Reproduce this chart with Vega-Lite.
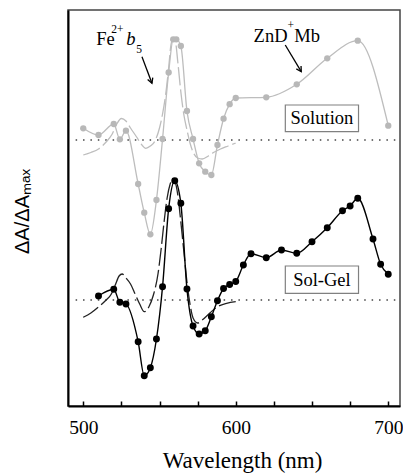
{
  "$schema": "https://vega.github.io/schema/vega-lite/v6.json",
  "width": 332,
  "height": 396,
  "autosize": {"type": "none"},
  "padding": {"left": 68, "top": 10, "right": 3, "bottom": 67},
  "background": "white",
  "config": {
    "view": {"stroke": "#444", "strokeWidth": 1.5},
    "font": "Liberation Serif",
    "axis": {"labelFont": "Liberation Serif", "titleFont": "Liberation Serif"},
    "axisY": {"titleFont": "Liberation Sans"},
    "text": {"font": "Liberation Serif"}
  },
  "datasets": {
    "solution": [
      {"nm": 500, "v": 2.767}, {"nm": 510, "v": 2.70}, {"nm": 520, "v": 2.81}, {"nm": 524, "v": 2.657},
      {"nm": 528, "v": 2.743}, {"nm": 536, "v": 2.21}, {"nm": 540, "v": 1.923}, {"nm": 544, "v": 1.707},
      {"nm": 548, "v": 2.05}, {"nm": 552, "v": 2.66}, {"nm": 556, "v": 3.325}, {"nm": 559, "v": 3.657},
      {"nm": 561, "v": 3.657}, {"nm": 564, "v": 3.59}, {"nm": 568, "v": 2.94}, {"nm": 572, "v": 2.66},
      {"nm": 576, "v": 2.417}, {"nm": 580, "v": 2.333}, {"nm": 584, "v": 2.30}, {"nm": 588, "v": 2.60},
      {"nm": 592, "v": 2.863}, {"nm": 596, "v": 3.008}, {"nm": 600, "v": 3.07}, {"nm": 620, "v": 3.077},
      {"nm": 640, "v": 3.207}, {"nm": 660, "v": 3.467}, {"nm": 680, "v": 3.643}, {"nm": 700, "v": 2.793}
    ],
    "solutionRef": [
      {"nm": 500, "v": 2.50}, {"nm": 505, "v": 2.525}, {"nm": 510, "v": 2.56}, {"nm": 515, "v": 2.63},
      {"nm": 519, "v": 2.71}, {"nm": 522, "v": 2.81}, {"nm": 525, "v": 2.865}, {"nm": 528, "v": 2.84},
      {"nm": 531, "v": 2.77}, {"nm": 535, "v": 2.68}, {"nm": 538, "v": 2.61}, {"nm": 541, "v": 2.567},
      {"nm": 544, "v": 2.59}, {"nm": 547, "v": 2.64}, {"nm": 550, "v": 2.77}, {"nm": 552, "v": 2.91},
      {"nm": 554, "v": 3.10}, {"nm": 556, "v": 3.37}, {"nm": 557.5, "v": 3.60}, {"nm": 559, "v": 3.67},
      {"nm": 560.5, "v": 3.63}, {"nm": 562, "v": 3.43}, {"nm": 564, "v": 3.13}, {"nm": 566, "v": 2.90},
      {"nm": 568, "v": 2.75}, {"nm": 570, "v": 2.62}, {"nm": 572, "v": 2.53}, {"nm": 575, "v": 2.47},
      {"nm": 578, "v": 2.46}, {"nm": 582, "v": 2.49}, {"nm": 586, "v": 2.53}, {"nm": 590, "v": 2.56},
      {"nm": 595, "v": 2.59}, {"nm": 600, "v": 2.62}
    ],
    "solgel": [
      {"nm": 510, "v": 1.09}, {"nm": 520, "v": 1.157}, {"nm": 524, "v": 1.027}, {"nm": 528, "v": 1.01},
      {"nm": 536, "v": 0.633}, {"nm": 540, "v": 0.293}, {"nm": 544, "v": 0.373}, {"nm": 548, "v": 0.66},
      {"nm": 552, "v": 1.183}, {"nm": 556, "v": 1.963}, {"nm": 560, "v": 2.243}, {"nm": 564, "v": 2.017},
      {"nm": 568, "v": 1.16}, {"nm": 572, "v": 0.79}, {"nm": 576, "v": 0.71}, {"nm": 580, "v": 0.743},
      {"nm": 584, "v": 0.883}, {"nm": 588, "v": 1.043}, {"nm": 592, "v": 1.165}, {"nm": 596, "v": 1.205},
      {"nm": 600, "v": 1.235}, {"nm": 605, "v": 1.40}, {"nm": 610, "v": 1.513}, {"nm": 620, "v": 1.473},
      {"nm": 630, "v": 1.55}, {"nm": 640, "v": 1.517}, {"nm": 650, "v": 1.633}, {"nm": 660, "v": 1.773},
      {"nm": 670, "v": 1.943}, {"nm": 675, "v": 1.99}, {"nm": 680, "v": 2.067}, {"nm": 690, "v": 1.66},
      {"nm": 695, "v": 1.407}, {"nm": 700, "v": 1.307}
    ],
    "solgelRef": [
      {"nm": 500, "v": 0.877}, {"nm": 505, "v": 0.92}, {"nm": 510, "v": 0.98}, {"nm": 515, "v": 1.05},
      {"nm": 518, "v": 1.10}, {"nm": 521, "v": 1.20}, {"nm": 523.5, "v": 1.29}, {"nm": 525.5, "v": 1.31},
      {"nm": 528, "v": 1.27}, {"nm": 531, "v": 1.21}, {"nm": 534, "v": 1.11}, {"nm": 537, "v": 1.01},
      {"nm": 540, "v": 0.933}, {"nm": 543, "v": 0.98}, {"nm": 546, "v": 1.10}, {"nm": 549, "v": 1.31},
      {"nm": 551, "v": 1.55}, {"nm": 553, "v": 1.83}, {"nm": 555, "v": 2.07}, {"nm": 557, "v": 2.21},
      {"nm": 558.5, "v": 2.26}, {"nm": 560, "v": 2.24}, {"nm": 562, "v": 2.10}, {"nm": 564, "v": 1.83},
      {"nm": 566, "v": 1.53}, {"nm": 568, "v": 1.23}, {"nm": 570, "v": 1.01}, {"nm": 572, "v": 0.87},
      {"nm": 575, "v": 0.82}, {"nm": 578, "v": 0.85}, {"nm": 583, "v": 0.92}, {"nm": 588, "v": 0.983},
      {"nm": 594, "v": 1.017}, {"nm": 600, "v": 1.033}
    ],
    "baselines": [
      {"nm": 495, "nm2": 707, "v": 2.65},
      {"nm": 495, "nm2": 707, "v": 1.05}
    ],
    "boxes": [
      {"nm": 632.5, "nm2": 680.5, "v": 3.0, "v2": 2.733},
      {"nm": 632.5, "nm2": 680.5, "v": 1.39, "v2": 1.117}
    ],
    "boxText": [
      {"t": "Solution", "nm": 656.5, "v": 2.867},
      {"t": "Sol-Gel", "nm": 656.5, "v": 1.253}
    ],
    "bigText": [
      {"t": "Fe", "nm": 508.5, "v": 3.60},
      {"t": "ZnD", "nm": 611.7, "v": 3.633},
      {"t": "Mb", "nm": 638.4, "v": 3.633}
    ],
    "italicText": [
      {"t": "b", "nm": 528.2, "v": 3.60}
    ],
    "smallText": [
      {"t": "2+", "nm": 518.4, "v": 3.717},
      {"t": "5", "nm": 534.8, "v": 3.523},
      {"t": "+", "nm": 634.0, "v": 3.765}
    ],
    "arrows": [
      {"nm": 538.5, "v": 3.483, "nm2": 545.05, "v2": 3.217},
      {"nm": 632.46, "v": 3.60, "nm2": 642.95, "v2": 3.333}
    ]
  },
  "encoding": {
    "x": {
      "field": "nm", "type": "quantitative",
      "scale": {"domain": [490, 707.7], "nice": false, "zero": false},
      "axis": {
        "title": "Wavelength (nm)",
        "values": [500, 525, 550, 575, 600, 625, 650, 675, 700],
        "labelExpr": "datum.value % 100 === 0 ? datum.label : ''",
        "tickSize": -5, "tickWidth": 1.5, "tickColor": "black",
        "domainColor": "black", "domainWidth": 2,
        "grid": false,
        "labelFont": "Liberation Serif", "labelFontSize": 19.5, "labelColor": "black",
        "labelPadding": 17, "labelOverlap": false, "labelFlush": false,
        "titleFont": "Liberation Serif", "titleFontSize": 23, "titleFontWeight": "normal",
        "titleColor": "black", "titleX": 174, "titleY": 61, "titleBaseline": "alphabetic", "titleAlign": "center"
      }
    },
    "y": {
      "field": "v", "type": "quantitative",
      "scale": {"domain": [-0.01, 3.95], "nice": false, "zero": false},
      "axis": {
        "title": "ΔA/ΔAₘₐₓ",
        "ticks": false, "labels": false, "grid": false,
        "domain": true, "domainColor": "black", "domainWidth": 2,
        "titleFont": "Liberation Sans", "titleFontSize": 20, "titleFontWeight": "normal",
        "titleColor": "black", "titleAngle": 270, "titleX": -46, "titleY": 201,
        "titleAlign": "center", "titleBaseline": "middle"
      }
    }
  },
  "layer": [
    {
      "data": {"name": "baselines"},
      "mark": {"type": "rule", "color": "#444", "strokeWidth": 1.5, "strokeDash": [1.5, 5.9]},
      "encoding": {"x2": {"field": "nm2"}}
    },
    {
      "data": {"name": "solutionRef"},
      "mark": {"type": "line", "color": "#bdbdbd", "strokeWidth": 1.3, "strokeDash": [18, 4], "interpolate": "monotone"},
      "encoding": {}
    },
    {
      "data": {"name": "solgelRef"},
      "mark": {"type": "line", "color": "#222", "strokeWidth": 1.3, "strokeDash": [18, 4], "interpolate": "monotone"},
      "encoding": {}
    },
    {
      "data": {"name": "solution"},
      "mark": {"type": "line", "color": "#bdbdbd", "strokeWidth": 1.3, "interpolate": "monotone"},
      "encoding": {}
    },
    {
      "data": {"name": "solution"},
      "mark": {"type": "point", "shape": "circle", "filled": true, "color": "#b8b8b8", "opacity": 1, "size": 40},
      "encoding": {}
    },
    {
      "data": {"name": "solgel"},
      "mark": {"type": "line", "color": "black", "strokeWidth": 1.4, "interpolate": "monotone"},
      "encoding": {}
    },
    {
      "data": {"name": "solgel"},
      "mark": {"type": "point", "shape": "circle", "filled": true, "color": "black", "opacity": 1, "size": 48},
      "encoding": {}
    },
    {
      "data": {"name": "boxes"},
      "mark": {"type": "rect", "fill": "white", "stroke": "#808080", "strokeWidth": 1.2},
      "encoding": {"x2": {"field": "nm2"}, "y2": {"field": "v2"}}
    },
    {
      "data": {"name": "boxText"},
      "mark": {"type": "text", "font": "Liberation Serif", "fontSize": 18.5, "color": "black", "align": "center", "baseline": "middle"},
      "encoding": {"text": {"field": "t"}}
    },
    {
      "data": {"name": "bigText"},
      "mark": {"type": "text", "font": "Liberation Serif", "fontSize": 18.5, "color": "black", "align": "left", "baseline": "alphabetic"},
      "encoding": {"text": {"field": "t"}}
    },
    {
      "data": {"name": "italicText"},
      "mark": {"type": "text", "font": "Liberation Serif", "fontSize": 18.5, "fontStyle": "italic", "color": "black", "align": "left", "baseline": "alphabetic"},
      "encoding": {"text": {"field": "t"}}
    },
    {
      "data": {"name": "smallText"},
      "mark": {"type": "text", "font": "Liberation Serif", "fontSize": 11.5, "color": "black", "align": "left", "baseline": "alphabetic"},
      "encoding": {"text": {"field": "t"}}
    },
    {
      "data": {"name": "arrows"},
      "mark": {"type": "rule", "color": "black", "strokeWidth": 1.3},
      "encoding": {"x2": {"field": "nm2"}, "y2": {"field": "v2"}}
    },
    {
      "data": {"name": "arrows"},
      "transform": [{"filter": "datum.nm < 600"}],
      "mark": {"type": "point", "shape": "M-0.55,-1L0,0L0.55,-1", "filled": false, "stroke": "black", "strokeWidth": 1.3, "opacity": 1, "size": 100, "angle": 339.4},
      "encoding": {"x": {"field": "nm2", "type": "quantitative"}, "y": {"field": "v2", "type": "quantitative"}}
    },
    {
      "data": {"name": "arrows"},
      "transform": [{"filter": "datum.nm > 600"}],
      "mark": {"type": "point", "shape": "M-0.55,-1L0,0L0.55,-1", "filled": false, "stroke": "black", "strokeWidth": 1.3, "opacity": 1, "size": 100, "angle": 329.1},
      "encoding": {"x": {"field": "nm2", "type": "quantitative"}, "y": {"field": "v2", "type": "quantitative"}}
    }
  ]
}
